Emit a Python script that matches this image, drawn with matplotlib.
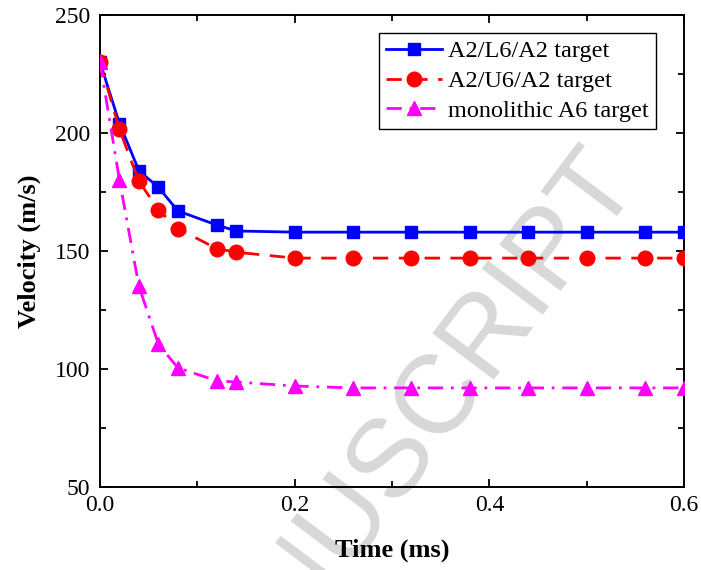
import numpy as np
import matplotlib
matplotlib.use("Agg")
import matplotlib.pyplot as plt
from matplotlib.ticker import MultipleLocator

plt.rcParams['font.family'] = ['Liberation Serif', 'DejaVu Serif']
plt.rcParams['mathtext.fontset'] = 'stix'

# time (ms)
time = [0.0, 0.02, 0.04, 0.06, 0.08, 0.12, 0.14, 0.2, 0.26, 0.32, 0.38, 0.44, 0.5, 0.56, 0.6]
# velocity (m/s)
vel_L6 = [230, 204, 184, 177, 167, 161, 158.5, 158, 158, 158, 158, 158, 158, 158, 158]
vel_U6 = [230, 201.5, 179.5, 167.5, 159.5, 151, 149.5, 147, 147, 147, 147, 147, 147, 147, 147]
vel_A6 = [230, 180, 135, 110.5, 100.5, 95, 94.5, 92.8, 92, 92, 92, 92, 92, 92, 92]

fig = plt.figure(figsize=(7.01, 5.70), dpi=100)
ax = fig.add_axes([0.1427, 0.1456, 0.833, 0.828])

# watermark
ax.text(0.91, 0.69, "MANUSCRIPT", transform=fig.transFigure, rotation=53,
        rotation_mode='anchor', ha='right', va='baseline', fontsize=80,
        family='Liberation Sans', color='#d8d8d8', zorder=0.5, clip_on=False)

ax.plot(time, vel_L6, color='blue', lw=2.0, marker='s', markersize=9,
        label='A2/L6/A2 target', zorder=3)
ax.plot(time, vel_U6, color='red', lw=2.0, ls=(0, (5.5, 3.8)), marker='o', markersize=10.5,
        label='A2/U6/A2 target', zorder=3)
ax.plot(time, vel_A6, color='magenta', lw=2.0, ls=(0, (5.5, 2.8, 1.0, 2.8)), marker='^',
        markersize=10.5, label='monolithic A6 target', zorder=3)

ax.set_xlim(0, 0.6)
ax.set_ylim(50, 250)
ax.xaxis.set_major_locator(MultipleLocator(0.2))
ax.xaxis.set_minor_locator(MultipleLocator(0.1))
ax.yaxis.set_major_locator(MultipleLocator(50))
ax.yaxis.set_minor_locator(MultipleLocator(25))
ax.set_xticklabels(['%.1f' % t for t in ax.get_xticks()])
ax.tick_params(which='both', direction='in', top=True, right=True, labelsize=17, width=1.3)
ax.tick_params(which='major', length=6)
ax.tick_params(which='minor', length=4)
ax.tick_params(axis='x', pad=6)
ax.tick_params(axis='y', pad=7)
for s in ax.spines.values():
    s.set_linewidth(1.4)

ax.set_xlabel('Time (ms)', fontsize=19, fontweight='bold', labelpad=16)
ax.set_ylabel('Velocity (m/s)', fontsize=19, fontweight='bold', labelpad=10)

leg = ax.legend(loc='upper right', bbox_to_anchor=(0.952, 0.962), fontsize=17.5,
                handlelength=2.3, handletextpad=0.25, borderpad=0.3, labelspacing=0.32,
                borderaxespad=0, fancybox=False, edgecolor='black', framealpha=1)
leg.get_frame().set_linewidth(1.0)

fig.savefig('out.png', dpi=100)
